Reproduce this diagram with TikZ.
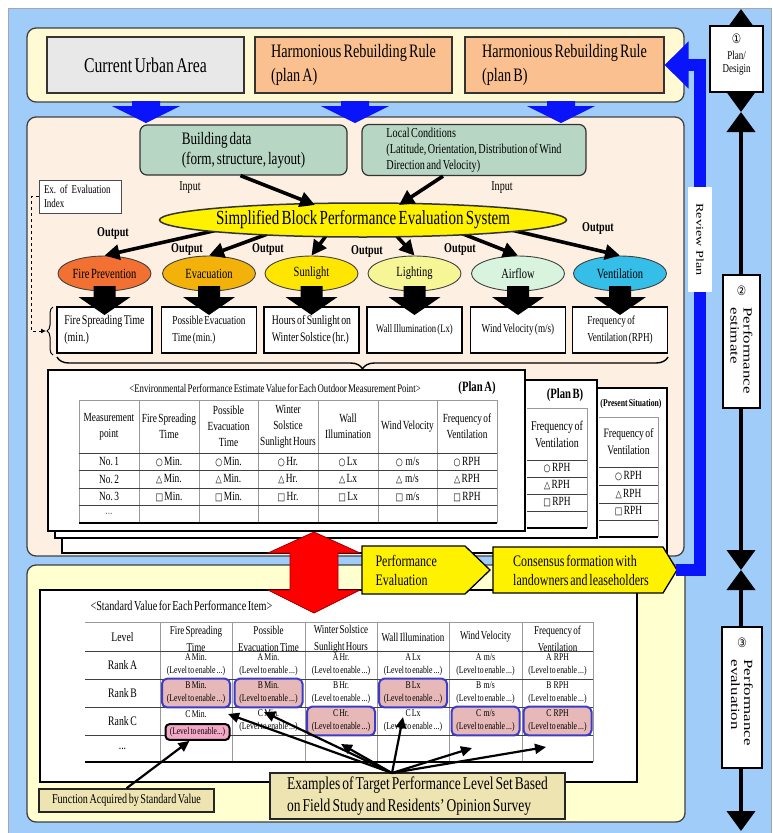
\documentclass[tikz,border=0pt]{standalone}
\usepackage{fontspec}
\setmainfont{Liberation Serif}[FakeStretch=0.75,WordSpace=0.6]
\newfontfamily\rotf{Liberation Serif}[FakeStretch=1.35]
\newfontfamily\symf{DejaVu Sans}[FakeStretch=0.8]
\usetikzlibrary{arrows.meta,shapes.geometric,decorations.pathreplacing}
\frenchspacing
\definecolor{bgblue}{RGB}{160,204,250}
\definecolor{topyel}{RGB}{255,250,212}
\definecolor{midpeach}{RGB}{253,240,226}
\definecolor{botyel}{RGB}{255,255,208}
\definecolor{urbgray}{RGB}{232,232,232}
\definecolor{planor}{RGB}{250,192,144}
\definecolor{arrblue}{RGB}{10,20,250}
\definecolor{datagreen}{RGB}{184,214,196}
\definecolor{cfire}{RGB}{242,112,50}
\definecolor{cevac}{RGB}{242,178,10}
\definecolor{csun}{RGB}{255,230,0}
\definecolor{clight}{RGB}{246,246,150}
\definecolor{cair}{RGB}{216,244,222}
\definecolor{cvent}{RGB}{52,190,232}
\definecolor{cellpink}{RGB}{230,184,183}
\definecolor{hotpink}{RGB}{244,168,200}
\definecolor{khaki}{RGB}{238,228,178}
\definecolor{hlblue}{RGB}{60,60,200}
\newcommand\fsz[2]{\fontsize{#1pt}{#2pt}\selectfont}
\newcommand\sy[1]{{\symf\fontsize{10pt}{12pt}\selectfont #1}}
\newcommand\fatdown[7]{\fill[#7] ({#1-#5},#2) -- ({#1+#5},#2) -- ({#1+#5},#3) -- ({#1+#6},#3) -- (#1,#4) -- ({#1-#6},#3) -- ({#1-#5},#3) -- cycle;}
\newcommand\scell[4][]{\node[cellt,#1] (#2) at (#3) {#4\\(Level to enable ...)};}
\newcommand\arow[3]{%
 \node (an#1) at (109,#2) {No. #1};
 \node (a#1c1) at (169,#2) {\sy{#3}\ Min.};
 \node (a#1c2) at (228.5,#2) {\sy{#3}\ Min.};
 \node (a#1c3) at (288,#2) {\sy{#3}\ Hr.};
 \node (a#1c4) at (348,#2) {\sy{#3}\ Lx};
 \node (a#1c5) at (407.5,#2) {\sy{#3}\ \ m/s};
 \node (a#1c6) at (467,#2) {\sy{#3}\ RPH};}
\tikzset{
 panel/.style={draw=black!75, line width=1.3pt, rounded corners=9pt},
 tbox/.style={draw=black!80, line width=1.2pt, minimum height=56pt},
 gbox/.style={draw=black!80, line width=1.2pt, fill=datagreen, rounded corners=7pt, minimum height=50pt},
 oval/.style={ellipse, draw=black!75, line width=0.9pt, inner sep=0pt, minimum width=93pt, minimum height=35pt, font=\fsz{14}{16}},
 obox/.style={draw=black, line width=1.1pt, fill=white, minimum width=95pt, minimum height=46pt, align=left},
 lbl/.style={font=\fsz{13.5}{15}},
 outl/.style={font=\bfseries\fsz{13.5}{15}},
 thk/.style={line width=3.6pt, -{Triangle[length=15pt,width=15pt]}},
 sheet/.style={draw=black, line width=1.5pt, fill=white},
 hl/.style={draw=hlblue, line width=2pt, fill=cellpink, rounded corners=5pt, minimum width=68pt, minimum height=25pt},
 cellt/.style={align=center, font=\fsz{10.3}{13}},
 tlg/.style={draw=black!40, line width=0.6pt},
 tld/.style={draw=black!75, line width=0.8pt},
 tlb/.style={draw=black, line width=1.8pt},
 pent/.style={draw=black, line width=1.3pt, fill=yellow},
 rbox/.style={draw=black, line width=1.2pt, fill=white},
 blk/.style={line width=4pt, {Triangle[length=20pt,width=28pt]}-{Triangle[length=20pt,width=28pt]}},
 exarr/.style={line width=2.2pt, -{Triangle[length=11pt,width=10pt]}},
 kbox/.style={draw=black!85, line width=1.4pt, fill=khaki}
}
\begin{document}
\begin{tikzpicture}[x=1pt,y=-1pt, font=\fsz{12}{14}]
\useasboundingbox (0,0) rectangle (773,833);
\fill[white] (0,0) rectangle (773,833);
\fill[bgblue] (8,8) rectangle (771,833);
\draw[black!35, line width=0.8pt] (8,833) -- (8,8) -- (771,8) -- (771,833);
% panels
\draw[panel, fill=topyel] (27,28) rectangle (684,102);
\draw[panel, fill=midpeach] (27,117) rectangle (684,556);
\draw[panel, fill=botyel] (27,565) rectangle (685,822);
% top boxes
\node[tbox, fill=urbgray, minimum width=197pt, font=\fsz{21}{24}] (cur) at (145.5,65) {Current Urban Area};
\node[tbox, fill=planor, minimum width=197pt, align=left, font=\fsz{19}{24}] (pa) at (353.5,65) {Harmonious Rebuilding Rule\\(plan A)};
\node[tbox, fill=planor, minimum width=199pt, align=left, font=\fsz{19}{24}] (pb) at (564.5,65) {Harmonious Rebuilding Rule\\(plan B)};
\fatdown{146}{101}{106}{123}{14}{34}{arrblue}
\fatdown{355}{101}{106}{123}{14}{34}{arrblue}
\fatdown{561}{101}{106}{123}{14}{34}{arrblue}
% data boxes
\node[gbox, minimum width=207pt, align=left, font=\fsz{17.5}{20}] (bd) at (243.5,150) {Building data\\(form, structure, layout)};
\node[gbox, minimum width=224pt, align=left, font=\fsz{13.6}{16}] (loc) at (474,150) {Local Conditions\\(Latitude, Orientation, Distribution of Wind\\Direction and Velocity)};
\node[draw=black!70, line width=0.8pt, fill=white, minimum width=82pt, minimum height=33pt, align=left, text width=72pt, font=\fsz{12}{13.5}] (ex) at (80,196.5) {Ex. of Evaluation\\Index};
\node[lbl] (in1l) at (190,188) {Input};
\node[lbl] (in2l) at (502,188) {Input};
% ovals
\node[oval, fill=cfire] (fire) at (104.5,273.5) {Fire Prevention};
\node[oval, fill=cevac] (evac) at (209,273.5) {Evacuation};
\node[oval, fill=csun] (sun) at (311.5,273.5) {Sunlight};
\node[oval, fill=clight] (lig) at (414.5,273.5) {Lighting};
\node[oval, fill=cair] (air) at (518,273.5) {Airflow};
\node[oval, fill=cvent] (ven) at (620,273.5) {Ventilation};
% output arrows
\coordinate (o1) at (222,229); \coordinate (o2) at (273,232); \coordinate (o3) at (328,233);
\coordinate (o4) at (394,233); \coordinate (o5) at (458,232); \coordinate (o6) at (507,229);
\draw[thk] (o1) -- (fire.north);
\draw[thk] (o2) -- (evac.north);
\draw[thk] (o3) -- (sun.north);
\draw[thk] (o4) -- (lig.north);
\draw[thk] (o5) -- (air.north);
\draw[thk] (o6) -- (ven.north);
% evaluation system
\draw[draw=black!80, line width=1.5pt, fill=yellow] (363,220) ellipse [x radius=203.5, y radius=17];
\node[font=\fsz{20}{22}] (sys) at (363,220) {Simplified Block Performance Evaluation System};
\coordinate (ie1) at (315,205); \coordinate (ie2) at (399,205);
\draw[thk] ([xshift=-3pt]bd.south) -- (ie1);
\draw[thk] ([xshift=-31pt]loc.south) -- (ie2);
\node[outl] (out1) at (113,233) {Output};
\node[outl] (out2) at (187,249) {Output};
\node[outl] (out3) at (268,249) {Output};
\node[outl] (out4) at (367,251) {Output};
\node[outl] (out5) at (460,249) {Output};
\node[outl] (out6) at (598,228) {Output};
% index boxes
\node[obox, font=\fsz{13.3}{17}] (b1) at (104.5,330) {Fire Spreading Time\\(min.)};
\node[obox, font=\fsz{12.2}{17}] (b2) at (209,330) {Possible Evacuation\\Time (min.)};
\node[obox, font=\fsz{13}{17}] (b3) at (311.5,330) {Hours of Sunlight on\\Winter Solstice (hr.)};
\node[obox, font=\fsz{11.5}{17}] (b4) at (414.5,330) {Wall Illumination (Lx)};
\node[obox, font=\fsz{12.2}{17}] (b5) at (518,330) {Wind Velocity (m/s)};
\node[obox, font=\fsz{12.2}{17}] (b6) at (620,330) {Frequency of\\Ventilation (RPH)};
\foreach \x in {104.5,209,311.5,414.5,518,620} {\fatdown{\x}{286}{297}{315}{11}{26}{black}}
% braces
\draw[line width=1pt, decorate, decoration={brace, amplitude=6pt}] (53,355) -- (53,307);
\coordinate (lbt) at (46,331);
\draw[dashed, line width=0.8pt, -{Latex[length=5pt,width=5pt]}] (ex.west) -| (31,331) -- (lbt);
\draw[line width=1.4pt, decorate, decoration={brace, amplitude=12pt}] (668,357) -- (57,357);
% sheets
\draw[sheet] (62,388) rectangle (667,553);
\draw[sheet] (55,380) rectangle (597,538);
\draw[sheet] (48,370) rectangle (525,531);
% present situation
\node[font=\bfseries\fsz{10.3}{12}] (pst) at (631,404) {(Present Situation)};
\draw[tlg] (599,417) -- (658,417);
\draw[tlg] (658,417) -- (658,537);
\foreach \y in {467,485,503,520} \draw[tld] (599,\y) -- (658,\y);
\draw[tlb] (599,537) -- (658,537);
\node[align=center, font=\fsz{12.8}{17}] (psh) at (628.5,442) {Frequency of\\Ventilation};
\node[font=\fsz{12.5}{14}] (ps1) at (628.5,476) {\sy{○}\ RPH};
\node[font=\fsz{12.5}{14}] (ps2) at (628.5,494) {\sy{△}\ RPH};
\node[font=\fsz{12.5}{14}] (ps3) at (628.5,511.5) {\sy{□}\ RPH};
% plan B
\node[font=\bfseries\fsz{14.2}{16}] (pbt) at (565,395) {(Plan B)};
\draw[tlg] (527,408) -- (587,408);
\draw[tlg] (587,408) -- (587,528);
\foreach \y in {460,477,494,511} \draw[tld] (527,\y) -- (587,\y);
\draw[tlb] (527,528) -- (587,528);
\node[align=center, font=\fsz{13.3}{17}] (pbh) at (557,434) {Frequency of\\Ventilation};
\node[font=\fsz{12.5}{14}] (pb1) at (557,468.5) {\sy{○}\ RPH};
\node[font=\fsz{12.5}{14}] (pb2) at (557,485.5) {\sy{△}\ RPH};
\node[font=\fsz{12.5}{14}] (pb3) at (557,502.5) {\sy{□}\ RPH};
% plan A
\node[font=\fsz{11.7}{13}] (pat) at (275,388) {<Environmental Performance Estimate Value for Each Outdoor Measurement Point>};
\node[font=\bfseries\fsz{14.2}{16}] (pal) at (477,388) {(Plan A)};
\draw[tlg] (79,400) -- (497,400);
\foreach \x in {79,139,199,258,318,378,437,497} \draw[tlg] (\x,400) -- (\x,523);
\foreach \y in {453,470.5,488,505.5} \draw[tld] (79,\y) -- (497,\y);
\draw[tlb] (79,523) -- (497,523);
\begin{scope}[align=center, font=\fsz{12.4}{16}]
\node (ah1) at (109,426.5) {Measurement\\point};
\node (ah2) at (169,426.5) {Fire Spreading\\Time};
\node (ah3) at (228.5,426.5) {Possible\\Evacuation\\Time};
\node (ah4) at (288,426.5) {Winter\\Solstice\\Sunlight Hours};
\node (ah5) at (348,426.5) {Wall\\Illumination};
\node (ah6) at (407.5,426.5) {Wind Velocity};
\node (ah7) at (467,426.5) {Frequency of\\Ventilation};
\end{scope}
\begin{scope}[font=\fsz{12.5}{14}]
\arow{1}{461.75}{○}
\arow{2}{479.25}{△}
\arow{3}{496.75}{□}
\node[text=black!60] (adots) at (109,514) {...};
\end{scope}
% bottom section
\draw[draw=black, line width=1.3pt, fill=white] (40,590) rectangle (637,782);
\node[anchor=west, font=\fsz{13.6}{15}] (stt) at (87,606) {<Standard Value for Each Performance Item>};
\draw[tlg] (85,622) -- (593,622);
\foreach \x in {160,232,305,377,449,522,593} \draw[tlg] (\x,622) -- (\x,762);
\foreach \y in {651,679,707,735} \draw[tld] (85,\y) -- (593,\y);
\draw[tlb] (85,762) -- (593,762);
\begin{scope}[font=\fsz{13}{15}]
\node (rl1) at (122.5,637) {Level};
\node (rl2) at (122.5,665) {Rank A};
\node (rl3) at (122.5,693) {Rank B};
\node (rl4) at (122.5,721) {Rank C};
\node (rl5) at (122.5,748.5) {...};
\end{scope}
\begin{scope}[align=center, font=\fsz{12}{17}]
\node (bh1) at (196,639) {Fire Spreading\\Time};
\node (bh2) at (268.5,639) {Possible\\Evacuation Time};
\node (bh3) at (341,639) {Winter Solstice\\Sunlight Hours};
\node (bh4) at (413,637) {Wall Illumination};
\node (bh5) at (485.5,637) {Wind Velocity};
\node (bh6) at (557.5,639) {Frequency of\\Ventilation};
\end{scope}
\scell{ca1}{196,665}{A Min.}
\scell{ca2}{268.5,665}{A Min.}
\scell{ca3}{341,665}{A Hr.}
\scell{ca4}{413,665}{A Lx}
\scell{ca5}{485.5,665}{A\ \ m/s}
\scell{ca6}{557.5,665}{A\ \ RPH}
\scell[hl]{cb1}{196,693}{B Min.}
\scell[hl]{cb2}{268.5,693}{B Min.}
\scell{cb3}{341,693}{B Hr.}
\scell[hl]{cb4}{413,693}{B Lx}
\scell{cb5}{485.5,693}{B\ \ m/s}
\scell{cb6}{557.5,693}{B\ \ RPH}
\node[cellt] (cc1) at (196,714) {C Min.};
\node[draw=black, line width=2pt, fill=hotpink, rounded corners=4pt, minimum width=64pt, minimum height=15pt, font=\fsz{10}{12}] (pk) at (197.5,732) {(Level to enable...)};
\scell{cc2}{268.5,721}{C Min.}
\scell[hl]{cc3}{341,721}{C Hr.}
\scell{cc4}{413,721}{C Lx}
\scell[hl]{cc5}{485.5,721}{C\ \ m/s}
\scell[hl]{cc6}{557.5,721}{C\ \ RPH}
% red double arrow
\draw[fill=red, draw=red!60!black, line width=0.8pt] (314,532) -- (360,553) -- (338,553) -- (338,590) -- (360,590) -- (314,613) -- (268,590) -- (290,590) -- (290,553) -- (268,553) -- cycle;
% pentagons
\draw[pent] (362,546) -- (465,546) -- (490,570) -- (465,594) -- (362,594) -- cycle;
\node[anchor=west, align=left, font=\fsz{16}{19}] (pev) at (372,570) {Performance\\Evaluation};
\draw[pent] (493,547) -- (663,547) -- (677,570) -- (663,593) -- (493,593) -- cycle;
\node[align=left, font=\fsz{16}{19}] (cns) at (581,570) {Consensus formation with\\landowners and leaseholders};
% review plan loop
\coordinate (cft) at (676,570);
\draw[arrblue, line width=12pt, -{Triangle[length=24pt,width=46pt]}] (cft) -- (700,570) -- (700,65) -- (pb.east);
\node[fill=white, rotate=-90, minimum width=105pt, minimum height=24pt, font=\rotf\fsz{10.5}{12}] (rp) at (700,239.5) {Review Plan};
% right stages
\coordinate (r0) at (741,9); \coordinate (r1) at (741,112);
\coordinate (r2) at (741,570); \coordinate (r3) at (741,831);
\draw[blk] (r0) -- (r1);
\draw[blk] (r1) -- (r2);
\draw[blk] (r2) -- (r3);
\node[rbox, minimum width=53pt, minimum height=66pt] (s1) at (736.5,59) {};
\node[font=\symf\fsz{13}{14}] (s1n) at (736.5,39) {①};
\node[align=center, font=\fsz{12}{13}] (s1t) at (736.5,63) {Plan/\\Desigin};
\node[rbox, minimum width=37pt, minimum height=133pt] (s2) at (741.5,341.5) {};
\node[font=\symf\fsz{13}{14}] (s2n) at (741.5,291) {②};
\node[rotate=-90, anchor=west, align=left, font=\rotf\fsz{12.5}{13}] (s2t) at (741.5,304) {Performance\\estimate};
\node[rbox, minimum width=40pt, minimum height=141pt] (s3) at (742,697.5) {};
\node[font=\symf\fsz{13}{14}] (s3n) at (742,643) {③};
\node[rotate=-90, anchor=west, align=left, font=\rotf\fsz{12.5}{13}] (s3t) at (742,656) {Performance\\evaluation};
% examples
\node[kbox, minimum width=295pt, minimum height=46pt, align=left, font=\fsz{18}{22}] (exm) at (417.5,796) {Examples of Target Performance Level Set Based\\on Field Study and Residents' Opinion Survey};
\node[kbox, minimum width=175pt, minimum height=23pt, font=\fsz{13.5}{15}] (fn) at (126.5,800.5) {Function Acquired by Standard Value};
\coordinate (ec) at (392,773);
\coordinate (t1) at (228,714); \coordinate (t2) at (264,712); \coordinate (t3) at (341,744);
\coordinate (t4) at (403,717); \coordinate (t5) at (472,748); \coordinate (t6) at (546,747);
\foreach \t in {t1,t2,t3,t4,t5,t6} \draw[exarr] (ec) -- (\t);
\draw[exarr] (fn.north) -- ([xshift=-8pt]pk.south);
\end{tikzpicture}
\end{document}
